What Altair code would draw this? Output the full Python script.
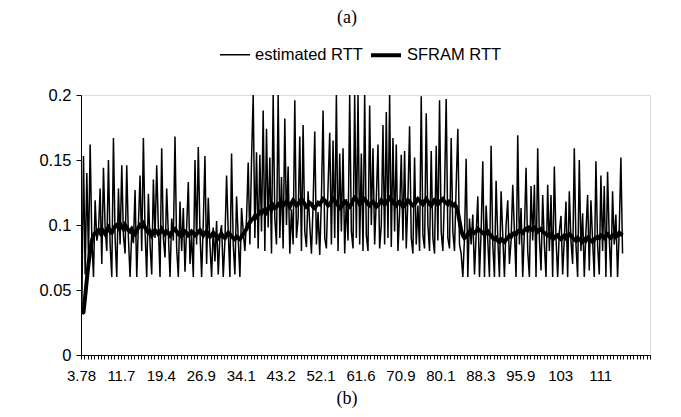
import altair as alt
import pandas as pd

x_labels = ["3.78", "11.7", "19.4", "26.9", "34.1", "43.2", "52.1", "61.6",
            "70.9", "80.1", "88.3", "95.9", "103", "111"]
y_ticks = [0, 0.05, 0.1, 0.15, 0.2]
series_names = ["estimated RTT", "SFRAM RTT"]

estimated_rtt = [
    0.035, 0.153, 0.062, 0.14, 0.075, 0.162, 0.09, 0.06, 0.119, 0.088,
    0.095, 0.128, 0.07, 0.144, 0.098, 0.08, 0.15, 0.085, 0.06, 0.167,
    0.09, 0.06, 0.128, 0.085, 0.146, 0.092, 0.078, 0.146, 0.09, 0.06,
    0.095, 0.086, 0.127, 0.06, 0.1, 0.138, 0.08, 0.167, 0.095, 0.06,
    0.124, 0.085, 0.062, 0.135, 0.09, 0.146, 0.098, 0.06, 0.159, 0.09,
    0.075, 0.128, 0.093, 0.06, 0.105, 0.088, 0.168, 0.082, 0.06, 0.118,
    0.08, 0.113, 0.064, 0.098, 0.133, 0.07, 0.092, 0.06, 0.15, 0.085,
    0.16, 0.095, 0.06, 0.102, 0.153, 0.07, 0.121, 0.085, 0.06, 0.098,
    0.072, 0.103, 0.062, 0.092, 0.1, 0.06, 0.088, 0.138, 0.095, 0.06,
    0.155, 0.085, 0.062, 0.122, 0.09, 0.06, 0.113, 0.095, 0.08, 0.105,
    0.148, 0.085, 0.15, 0.2, 0.09, 0.156, 0.082, 0.154, 0.095, 0.188,
    0.08, 0.174, 0.098, 0.152, 0.078, 0.2, 0.105, 0.085, 0.2, 0.09,
    0.137, 0.082, 0.182, 0.1, 0.145, 0.078, 0.112, 0.085, 0.196, 0.09,
    0.105, 0.168, 0.08, 0.177, 0.095, 0.083, 0.126, 0.1, 0.078, 0.115,
    0.172, 0.085, 0.11, 0.077, 0.12, 0.188, 0.09, 0.082, 0.13, 0.171,
    0.085, 0.165, 0.09, 0.2, 0.08, 0.155, 0.095, 0.159, 0.078, 0.12,
    0.088, 0.2, 0.095, 0.082, 0.2, 0.09, 0.2, 0.085, 0.155, 0.08,
    0.2, 0.092, 0.08, 0.192, 0.1, 0.159, 0.085, 0.12, 0.162, 0.082,
    0.1, 0.177, 0.085, 0.187, 0.09, 0.2, 0.083, 0.167, 0.095, 0.162,
    0.08, 0.11, 0.154, 0.088, 0.157, 0.082, 0.12, 0.176, 0.09, 0.078,
    0.152, 0.085, 0.115, 0.08, 0.199, 0.092, 0.082, 0.186, 0.1, 0.08,
    0.157, 0.09, 0.078, 0.161, 0.088, 0.196, 0.095, 0.08, 0.125, 0.197,
    0.09, 0.082, 0.167, 0.095, 0.08, 0.13, 0.174, 0.085, 0.078, 0.06,
    0.09, 0.151, 0.06, 0.105, 0.085, 0.108, 0.062, 0.092, 0.122, 0.06,
    0.095, 0.149, 0.06, 0.115, 0.088, 0.06, 0.161, 0.085, 0.06, 0.134,
    0.09, 0.06, 0.126, 0.092, 0.06, 0.1, 0.119, 0.07, 0.088, 0.131,
    0.095, 0.06, 0.169, 0.085, 0.113, 0.06, 0.095, 0.144, 0.08, 0.06,
    0.13, 0.088, 0.131, 0.06, 0.159, 0.09, 0.065, 0.123, 0.085, 0.06,
    0.131, 0.08, 0.123, 0.06, 0.145, 0.09, 0.06, 0.095, 0.107, 0.062,
    0.09, 0.118, 0.06, 0.126, 0.088, 0.07, 0.159, 0.085, 0.06, 0.15,
    0.08, 0.109, 0.06, 0.095, 0.123, 0.065, 0.119, 0.088, 0.06, 0.149,
    0.085, 0.062, 0.138, 0.08, 0.13, 0.06, 0.141, 0.09, 0.06, 0.126,
    0.085, 0.108, 0.06, 0.095, 0.152, 0.078,
]

sfram_rtt = [
    0.032, 0.033, 0.045, 0.058, 0.07, 0.08, 0.088, 0.092, 0.094, 0.095,
    0.096, 0.094, 0.097, 0.095, 0.093, 0.096, 0.098, 0.095, 0.094, 0.097,
    0.099, 0.1, 0.098, 0.101, 0.099, 0.097, 0.1, 0.098, 0.096, 0.095,
    0.097, 0.095, 0.093, 0.096, 0.098, 0.1, 0.099, 0.101, 0.098, 0.096,
    0.094, 0.095, 0.092, 0.094, 0.096, 0.095, 0.093, 0.094, 0.097, 0.095,
    0.093, 0.095, 0.094, 0.092, 0.094, 0.096, 0.097, 0.095, 0.093, 0.092,
    0.094, 0.093, 0.095, 0.094, 0.092, 0.093, 0.095, 0.094, 0.092, 0.093,
    0.095, 0.096, 0.094, 0.092, 0.094, 0.095, 0.093, 0.091, 0.092, 0.094,
    0.093, 0.091, 0.09, 0.092, 0.093, 0.091, 0.09, 0.092, 0.094, 0.093,
    0.091, 0.09, 0.089, 0.091, 0.09, 0.089, 0.091, 0.093, 0.095, 0.097,
    0.1, 0.102, 0.104, 0.105, 0.107, 0.106, 0.108, 0.11, 0.109, 0.111,
    0.112, 0.11, 0.113, 0.114, 0.112, 0.115, 0.113, 0.114, 0.116, 0.115,
    0.117, 0.115, 0.116, 0.118, 0.116, 0.114, 0.117, 0.119, 0.117, 0.115,
    0.116, 0.118, 0.12, 0.118, 0.116, 0.114, 0.115, 0.117, 0.116, 0.114,
    0.113, 0.115, 0.117, 0.116, 0.118, 0.12, 0.119, 0.117, 0.115, 0.116,
    0.118, 0.12, 0.119, 0.117, 0.115, 0.113, 0.114, 0.116, 0.118, 0.117,
    0.115, 0.114, 0.116, 0.119, 0.121, 0.12, 0.118, 0.116, 0.117, 0.119,
    0.12, 0.118, 0.116, 0.115, 0.117, 0.118, 0.116, 0.114, 0.115, 0.117,
    0.119, 0.118, 0.116, 0.117, 0.119, 0.121, 0.12, 0.118, 0.116, 0.115,
    0.117, 0.118, 0.116, 0.114, 0.115, 0.117, 0.119, 0.118, 0.116, 0.115,
    0.116, 0.118, 0.12, 0.119, 0.117, 0.116, 0.118, 0.12, 0.118, 0.116,
    0.115, 0.117, 0.119, 0.118, 0.116, 0.117, 0.119, 0.12, 0.118, 0.117,
    0.116, 0.118, 0.117, 0.115, 0.116, 0.114, 0.11, 0.103, 0.096, 0.092,
    0.09, 0.091, 0.093, 0.095, 0.096, 0.095, 0.094, 0.095, 0.097, 0.096,
    0.095, 0.094, 0.093, 0.094, 0.095, 0.093, 0.092, 0.09, 0.089, 0.09,
    0.088, 0.087, 0.089, 0.088, 0.087, 0.089, 0.09, 0.092, 0.091, 0.093,
    0.094, 0.093, 0.095, 0.096, 0.095, 0.094, 0.096, 0.097, 0.096, 0.098,
    0.097, 0.096, 0.098, 0.097, 0.095, 0.096, 0.097, 0.095, 0.094, 0.093,
    0.092, 0.093, 0.091, 0.092, 0.09, 0.091, 0.092, 0.09, 0.089, 0.091,
    0.092, 0.09, 0.091, 0.093, 0.092, 0.09, 0.089, 0.088, 0.09, 0.089,
    0.088, 0.087, 0.089, 0.088, 0.09, 0.089, 0.088, 0.087, 0.089, 0.09,
    0.091, 0.09, 0.092, 0.091, 0.09, 0.092, 0.093, 0.091, 0.09, 0.092,
    0.093, 0.091, 0.092, 0.094, 0.093, 0.092,
]

n = len(estimated_rtt)
df = pd.DataFrame({
    "idx": list(range(n)) * 2,
    "rtt": estimated_rtt + sfram_rtt,
    "series": [series_names[0]] * n + [series_names[1]] * len(sfram_rtt),
})

SLOTS = 342          # category slots on the axis
TICK_EVERY = 2
LABEL_EVERY = 24
tick_vals = [k - 0.5 for k in range(0, SLOTS + 1, TICK_EVERY)]

expr = "''"
for m in range(len(x_labels) - 1, -1, -1):
    expr = f"(datum.value == {m * LABEL_EVERY - 0.5} ? '{x_labels[m]}' : {expr})"

SANS = "Liberation Sans"
SERIF = "Liberation Serif"

lines = alt.Chart(df).mark_line(color="black", clip=True).encode(
    x=alt.X("idx:Q",
            scale=alt.Scale(domain=[-0.5, SLOTS - 0.5], nice=False, zero=False),
            axis=alt.Axis(values=tick_vals, labelExpr=expr, title=None, grid=False,
                          tickSize=4, labelPadding=9, labelFontSize=15, labelFont=SANS,
                          labelColor="black", domainColor="black", tickColor="black",
                          labelOverlap=False, labelFlush=False, labelBound=False)),
    y=alt.Y("rtt:Q",
            scale=alt.Scale(domain=[0, 0.2], nice=False, zero=True),
            axis=alt.Axis(values=y_ticks, labelExpr="format(datum.value, '~g')",
                          title=None, grid=False, tickSize=5, labelPadding=5,
                          labelFontSize=16.5, labelFont=SANS, labelColor="black",
                          domainColor="black", tickColor="black")),
    strokeWidth=alt.StrokeWidth(
        "series:N",
        scale=alt.Scale(domain=series_names, range=[1.5, 4]),
        legend=alt.Legend(title=None, orient="none", direction="horizontal",
                          legendX=138, legendY=-57, symbolType="stroke",
                          symbolSize=900, symbolStrokeColor="black",
                          labelFont=SANS, labelFontSize=16.5, labelColor="black",
                          labelOffset=4, columnPadding=0, padding=0)),
)

top_df = pd.DataFrame({"t": ["(a)"]})
bottom_df = pd.DataFrame({"t": ["(b)"]})
top_text = alt.Chart(top_df).mark_text(font=SERIF, fontSize=18, color="black",
                                        baseline="alphabetic").encode(
    text="t:N", x=alt.value(266), y=alt.value(-72))
bottom_text = alt.Chart(bottom_df).mark_text(font=SERIF, fontSize=18, color="black",
                                              baseline="alphabetic").encode(
    text="t:N", x=alt.value(266), y=alt.value(309))

chart = alt.layer(lines, top_text, bottom_text).properties(
    width=569, height=260,
    autosize=alt.AutoSizeParams(type="none"),
    padding={"left": 73, "top": 87, "right": 23, "bottom": 54},
).configure_view(stroke=None).configure(background="white")

chart.save("out.html", embed_options={"renderer": "svg", "actions": False})
